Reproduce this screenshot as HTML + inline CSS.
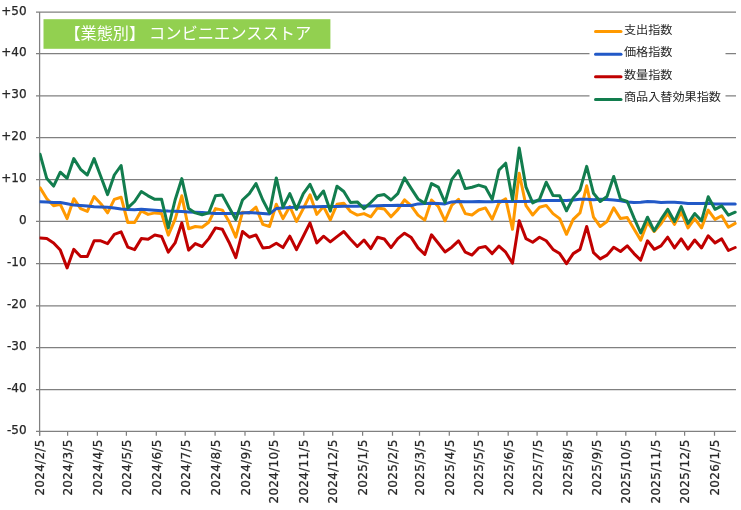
<!DOCTYPE html>
<html lang="ja"><head><meta charset="utf-8"><title>chart</title>
<style>
html,body{margin:0;padding:0;background:#fff;}
svg{display:block;will-change:transform;filter:blur(0.45px);}
.ax text{font-family:"DejaVu Sans","Liberation Sans",sans-serif;font-size:12px;fill:#262626;stroke:#262626;stroke-width:0.25;}
.jp{font-family:"Liberation Sans","Noto Sans CJK JP",sans-serif;}
.g line{stroke:#808080;stroke-width:1.25;}
.s polyline{fill:none;stroke-width:3;stroke-linejoin:round;stroke-linecap:round;}
</style></head><body>
<svg width="741" height="510" viewBox="0 0 741 510">
<rect width="741" height="510" fill="#fff"/>
<g class="g"><line x1="36" y1="12.04" x2="736.0" y2="12.04"/><line x1="36" y1="53.55" x2="736.0" y2="53.55"/><line x1="36" y1="95.95" x2="736.0" y2="95.95"/><line x1="36" y1="137.50" x2="736.0" y2="137.50"/><line x1="36" y1="179.65" x2="736.0" y2="179.65"/><line x1="36" y1="221.45" x2="736.0" y2="221.45"/><line x1="36" y1="263.50" x2="736.0" y2="263.50"/><line x1="36" y1="305.75" x2="736.0" y2="305.75"/><line x1="36" y1="347.50" x2="736.0" y2="347.50"/><line x1="36" y1="389.50" x2="736.0" y2="389.50"/><line x1="36" y1="431.26" x2="736.0" y2="431.26"/><line x1="39.6" y1="12.05" x2="39.6" y2="435.7"/><line x1="39.6" y1="431.2" x2="39.6" y2="435.8"/><line x1="67.6" y1="431.2" x2="67.6" y2="435.8"/><line x1="97.4" y1="431.2" x2="97.4" y2="435.8"/><line x1="126.4" y1="431.2" x2="126.4" y2="435.8"/><line x1="156.3" y1="431.2" x2="156.3" y2="435.8"/><line x1="185.2" y1="431.2" x2="185.2" y2="435.8"/><line x1="215.1" y1="431.2" x2="215.1" y2="435.8"/><line x1="245.0" y1="431.2" x2="245.0" y2="435.8"/><line x1="273.9" y1="431.2" x2="273.9" y2="435.8"/><line x1="303.8" y1="431.2" x2="303.8" y2="435.8"/><line x1="332.7" y1="431.2" x2="332.7" y2="435.8"/><line x1="362.6" y1="431.2" x2="362.6" y2="435.8"/><line x1="392.5" y1="431.2" x2="392.5" y2="435.8"/><line x1="419.5" y1="431.2" x2="419.5" y2="435.8"/><line x1="449.3" y1="431.2" x2="449.3" y2="435.8"/><line x1="478.3" y1="431.2" x2="478.3" y2="435.8"/><line x1="508.2" y1="431.2" x2="508.2" y2="435.8"/><line x1="537.1" y1="431.2" x2="537.1" y2="435.8"/><line x1="567.0" y1="431.2" x2="567.0" y2="435.8"/><line x1="596.8" y1="431.2" x2="596.8" y2="435.8"/><line x1="625.8" y1="431.2" x2="625.8" y2="435.8"/><line x1="655.7" y1="431.2" x2="655.7" y2="435.8"/><line x1="684.6" y1="431.2" x2="684.6" y2="435.8"/><line x1="714.5" y1="431.2" x2="714.5" y2="435.8"/></g>
<g class="ax"><text x="26.6" y="14.5" text-anchor="end">+50</text><text x="26.6" y="56.4" text-anchor="end">+40</text><text x="26.6" y="98.3" text-anchor="end">+30</text><text x="26.6" y="140.3" text-anchor="end">+20</text><text x="26.6" y="182.2" text-anchor="end">+10</text><text x="26.6" y="224.1" text-anchor="end">0</text><text x="26.6" y="266.0" text-anchor="end">-10</text><text x="26.6" y="307.9" text-anchor="end">-20</text><text x="26.6" y="349.9" text-anchor="end">-30</text><text x="26.6" y="391.8" text-anchor="end">-40</text><text x="26.6" y="433.7" text-anchor="end">-50</text><text transform="translate(44.1,439.4) rotate(-90)" text-anchor="end" letter-spacing="0.28">2024/2/5</text><text transform="translate(72.1,439.4) rotate(-90)" text-anchor="end" letter-spacing="0.28">2024/3/5</text><text transform="translate(101.9,439.4) rotate(-90)" text-anchor="end" letter-spacing="0.28">2024/4/5</text><text transform="translate(130.9,439.4) rotate(-90)" text-anchor="end" letter-spacing="0.28">2024/5/5</text><text transform="translate(160.8,439.4) rotate(-90)" text-anchor="end" letter-spacing="0.28">2024/6/5</text><text transform="translate(189.7,439.4) rotate(-90)" text-anchor="end" letter-spacing="0.28">2024/7/5</text><text transform="translate(219.6,439.4) rotate(-90)" text-anchor="end" letter-spacing="0.28">2024/8/5</text><text transform="translate(249.5,439.4) rotate(-90)" text-anchor="end" letter-spacing="0.28">2024/9/5</text><text transform="translate(278.4,439.4) rotate(-90)" text-anchor="end" letter-spacing="0.28">2024/10/5</text><text transform="translate(308.3,439.4) rotate(-90)" text-anchor="end" letter-spacing="0.28">2024/11/5</text><text transform="translate(337.2,439.4) rotate(-90)" text-anchor="end" letter-spacing="0.28">2024/12/5</text><text transform="translate(367.1,439.4) rotate(-90)" text-anchor="end" letter-spacing="0.28">2025/1/5</text><text transform="translate(397.0,439.4) rotate(-90)" text-anchor="end" letter-spacing="0.28">2025/2/5</text><text transform="translate(424.0,439.4) rotate(-90)" text-anchor="end" letter-spacing="0.28">2025/3/5</text><text transform="translate(453.8,439.4) rotate(-90)" text-anchor="end" letter-spacing="0.28">2025/4/5</text><text transform="translate(482.8,439.4) rotate(-90)" text-anchor="end" letter-spacing="0.28">2025/5/5</text><text transform="translate(512.7,439.4) rotate(-90)" text-anchor="end" letter-spacing="0.28">2025/6/5</text><text transform="translate(541.6,439.4) rotate(-90)" text-anchor="end" letter-spacing="0.28">2025/7/5</text><text transform="translate(571.5,439.4) rotate(-90)" text-anchor="end" letter-spacing="0.28">2025/8/5</text><text transform="translate(601.3,439.4) rotate(-90)" text-anchor="end" letter-spacing="0.28">2025/9/5</text><text transform="translate(630.3,439.4) rotate(-90)" text-anchor="end" letter-spacing="0.28">2025/10/5</text><text transform="translate(660.2,439.4) rotate(-90)" text-anchor="end" letter-spacing="0.28">2025/11/5</text><text transform="translate(689.1,439.4) rotate(-90)" text-anchor="end" letter-spacing="0.28">2025/12/5</text><text transform="translate(719.0,439.4) rotate(-90)" text-anchor="end" letter-spacing="0.28">2026/1/5</text></g>
<clipPath id="pc"><rect x="39.6" y="0" width="710" height="510"/></clipPath>
<g class="s" clip-path="url(#pc)">
<polyline stroke="#FF9900" points="40.1,187.9 46.8,198.7 53.6,205.8 60.3,204.4 67.1,218.6 73.8,198.7 80.6,208.7 87.3,211.4 94.1,196.5 100.8,203.7 107.6,212.9 114.3,199.4 121.1,197.2 127.8,222.5 134.6,222.5 141.3,210.8 148.1,214.4 154.8,212.9 161.6,213.6 168.3,235.1 175.1,219.4 181.8,195.8 188.6,228.7 195.3,226.5 202.1,227.2 208.8,222.2 215.5,208.6 222.3,210.1 229.0,221.5 235.8,237.2 242.5,212.2 249.3,212.9 256.0,207.2 262.8,224.4 269.5,226.5 276.3,204.3 283.0,218.6 289.8,206.5 296.5,221.5 303.3,208.6 310.0,194.8 316.8,214.4 323.5,206.5 330.3,219.8 337.0,204.3 343.8,203.3 350.5,211.5 357.3,215.1 364.0,213.6 370.8,216.8 377.5,207.9 384.3,209.1 391.0,216.8 397.8,209.6 404.5,199.8 411.3,205.8 418.0,215.1 424.8,220.1 431.5,200.0 438.3,206.5 445.0,220.8 451.8,205.1 458.5,199.3 465.3,213.6 472.0,215.0 478.7,210.0 485.5,207.9 492.2,219.3 499.0,202.9 505.7,198.9 512.5,229.3 519.2,173.2 526.0,205.7 532.7,215.0 539.5,207.2 546.2,205.4 553.0,213.6 559.7,218.6 566.5,234.3 573.2,219.3 580.0,212.9 586.7,185.8 593.5,217.2 600.2,226.5 607.0,221.5 613.7,207.9 620.5,218.6 627.2,217.5 634.0,229.0 640.7,240.1 647.5,222.2 654.2,231.5 661.0,223.7 667.7,213.6 674.5,224.4 681.2,212.2 688.0,227.9 694.7,218.6 701.5,227.9 708.2,210.1 715.0,219.4 721.7,215.8 728.4,227.2 735.2,223.4"/>
<polyline stroke="#2259C7" points="40.1,201.8 46.8,201.9 53.6,202.4 60.3,202.5 67.1,203.7 73.8,205.1 80.6,205.5 87.3,206.1 94.1,206.7 100.8,206.9 107.6,207.2 114.3,208.1 121.1,209.0 127.8,209.4 134.6,209.7 141.3,209.3 148.1,209.8 154.8,210.3 161.6,210.8 168.3,211.1 175.1,211.2 181.8,211.5 188.6,211.9 195.3,212.2 202.1,212.6 208.8,212.9 215.5,213.4 222.3,213.6 229.0,213.6 235.8,213.6 242.5,213.1 249.3,212.5 256.0,212.9 262.8,213.4 269.5,213.9 276.3,208.6 283.0,207.9 289.8,207.5 296.5,207.2 303.3,206.9 310.0,206.8 316.8,206.8 323.5,206.6 330.3,206.6 337.0,206.5 343.8,206.3 350.5,206.3 357.3,206.2 364.0,206.1 370.8,205.9 377.5,205.8 384.3,205.6 391.0,205.5 397.8,205.3 404.5,205.5 411.3,205.5 418.0,203.9 424.8,203.6 431.5,203.3 438.3,203.6 445.0,203.9 451.8,201.9 458.5,201.5 465.3,201.8 472.0,201.7 478.7,201.5 485.5,201.8 492.2,201.8 499.0,201.2 505.7,201.5 512.5,201.5 519.2,201.5 526.0,201.5 532.7,201.2 539.5,200.8 546.2,200.5 553.0,200.5 559.7,200.5 566.5,200.5 573.2,199.9 580.0,199.3 586.7,199.3 593.5,199.8 600.2,199.3 607.0,199.6 613.7,200.0 620.5,200.7 627.2,201.9 634.0,202.5 640.7,202.2 647.5,201.6 654.2,201.7 661.0,202.5 667.7,202.3 674.5,202.2 681.2,202.7 688.0,203.5 694.7,203.5 701.5,203.5 708.2,203.3 715.0,203.9 721.7,203.9 728.4,203.9 735.2,204.1"/>
<polyline stroke="#C00000" points="40.1,237.9 46.8,238.6 53.6,242.9 60.3,250.1 67.1,267.9 73.8,249.3 80.6,256.5 87.3,256.5 94.1,240.8 100.8,240.8 107.6,243.6 114.3,234.3 121.1,231.9 127.8,247.2 134.6,249.6 141.3,238.6 148.1,239.3 154.8,235.0 161.6,236.5 168.3,252.2 175.1,242.9 181.8,222.9 188.6,250.1 195.3,243.6 202.1,246.5 208.8,238.6 215.5,227.9 222.3,229.3 229.0,242.2 235.8,257.6 242.5,231.5 249.3,237.2 256.0,235.0 262.8,247.9 269.5,247.2 276.3,243.3 283.0,247.6 289.8,236.2 296.5,249.6 303.3,236.2 310.0,222.9 316.8,242.9 323.5,236.2 330.3,241.9 337.0,236.6 343.8,231.5 350.5,239.3 357.3,246.5 364.0,240.0 370.8,248.6 377.5,237.2 384.3,239.0 391.0,247.6 397.8,238.6 404.5,233.2 411.3,237.6 418.0,247.9 424.8,254.4 431.5,234.8 438.3,243.3 445.0,251.9 451.8,247.2 458.5,240.8 465.3,252.2 472.0,255.1 478.7,247.9 485.5,246.5 492.2,253.6 499.0,246.1 505.7,252.2 512.5,263.2 519.2,220.7 526.0,238.6 532.7,242.2 539.5,237.2 546.2,240.8 553.0,249.4 559.7,253.6 566.5,263.7 573.2,253.6 580.0,249.4 586.7,226.5 593.5,252.6 600.2,258.9 607.0,255.1 613.7,247.2 620.5,251.5 627.2,245.8 634.0,253.6 640.7,260.1 647.5,240.8 654.2,249.3 661.0,245.8 667.7,237.2 674.5,247.9 681.2,238.9 688.0,249.1 694.7,240.0 701.5,247.9 708.2,235.8 715.0,242.9 721.7,238.9 728.4,250.5 735.2,247.5"/>
<polyline stroke="#127D4E" points="40.1,154.3 46.8,178.6 53.6,186.1 60.3,172.2 67.1,178.3 73.8,158.6 80.6,169.3 87.3,175.0 94.1,158.6 100.8,176.5 107.6,194.6 114.3,175.0 121.1,165.5 127.8,207.9 134.6,201.5 141.3,191.5 148.1,195.8 154.8,199.3 161.6,199.3 168.3,227.9 175.1,200.0 181.8,178.6 188.6,208.6 195.3,212.9 202.1,214.8 208.8,212.9 215.5,195.8 222.3,195.0 229.0,207.2 235.8,219.4 242.5,200.0 249.3,193.6 256.0,183.6 262.8,200.0 269.5,212.9 276.3,177.9 283.0,207.2 289.8,193.6 296.5,209.3 303.3,193.6 310.0,184.3 316.8,199.3 323.5,191.0 330.3,211.1 337.0,186.2 343.8,191.5 350.5,202.5 357.3,201.9 364.0,208.6 370.8,202.5 377.5,195.8 384.3,194.6 391.0,200.0 397.8,193.6 404.5,177.9 411.3,188.6 418.0,198.9 424.8,203.3 431.5,183.6 438.3,187.2 445.0,202.5 451.8,179.3 458.5,170.7 465.3,188.6 472.0,187.2 478.7,185.1 485.5,187.2 492.2,199.4 499.0,170.0 505.7,163.2 512.5,200.1 519.2,148.0 526.0,187.2 532.7,202.9 539.5,199.4 546.2,182.2 553.0,195.5 559.7,195.8 566.5,210.8 573.2,197.9 580.0,190.0 586.7,166.4 593.5,193.3 600.2,201.5 607.0,196.5 613.7,176.5 620.5,199.1 627.2,201.5 634.0,217.9 640.7,232.9 647.5,217.2 654.2,230.8 661.0,219.4 667.7,209.3 674.5,221.5 681.2,206.5 688.0,223.4 694.7,213.6 701.5,220.8 708.2,196.8 715.0,209.3 721.7,205.8 728.4,215.1 735.2,212.2"/>
</g>
<rect x="43.5" y="19.2" width="286.9" height="29.6" fill="#92D050"/>
<text class="jp" y="39.0" fill="#fff"><tspan x="64.5" font-size="16.14">【業態別】</tspan> <tspan x="148.9" font-size="16.28">コンビニエンスストア</tspan></text>
<rect x="589.5" y="19" width="136" height="92" fill="#fff"/>
<g class="jp" font-size="11.6" fill="#262626"><line x1="595.5" y1="31.6" x2="621" y2="31.6" stroke="#FF9900" stroke-width="3" stroke-linecap="round"/><text transform="translate(623.9,33.5) scale(1.047,1)">支出指数</text><line x1="595.5" y1="54.2" x2="621" y2="54.2" stroke="#2259C7" stroke-width="3" stroke-linecap="round"/><text transform="translate(623.9,56.1) scale(1.047,1)">価格指数</text><line x1="595.5" y1="76.8" x2="621" y2="76.8" stroke="#C00000" stroke-width="3" stroke-linecap="round"/><text transform="translate(623.9,78.7) scale(1.047,1)">数量指数</text><line x1="595.5" y1="99.4" x2="621" y2="99.4" stroke="#127D4E" stroke-width="3" stroke-linecap="round"/><text transform="translate(623.9,101.3) scale(1.047,1)">商品入替効果指数</text></g>
</svg>
</body></html>
